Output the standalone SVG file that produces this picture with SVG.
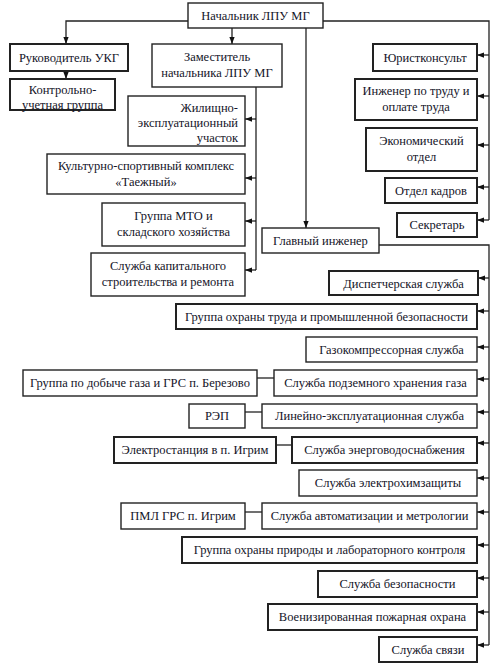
<svg xmlns="http://www.w3.org/2000/svg" width="493" height="667" viewBox="0 0 493 667">
<style>
rect{fill:#fff;stroke:#222;stroke-width:1.4}
rect.t{stroke-width:2}
text{font-family:"Liberation Serif","Times New Roman",serif;font-size:12.5px;fill:#141428;text-anchor:middle}
.c{fill:none;stroke:#222;stroke-width:1.3}
</style>
<defs>
<marker id="a" viewBox="0 0 8 6" refX="8" refY="3" markerWidth="7" markerHeight="6" orient="auto" markerUnits="userSpaceOnUse"><path d="M0,0 L8,3 L0,6 z" fill="#111"/></marker>
</defs>
<rect x="0" y="0" width="493" height="667" style="fill:#fff;stroke:none"/>
<g id="connectors">
<path class="c" d="M188,21 H66 V44" marker-end="url(#a)"/>
<path class="c" d="M66,71 V79" marker-end="url(#a)"/>
<path class="c" d="M232,28 V44" marker-end="url(#a)"/>
<path class="c" d="M306,28 V228" marker-end="url(#a)"/>
<path class="c" d="M256,87 V270"/>
<path class="c" d="M256,119 H245" marker-end="url(#a)"/>
<path class="c" d="M256,178 H245" marker-end="url(#a)"/>
<path class="c" d="M256,221 H245" marker-end="url(#a)"/>
<path class="c" d="M256,270 H245" marker-end="url(#a)"/>
<path class="c" d="M323,21 H489 V220"/>
<path class="c" d="M489,55 H477" marker-end="url(#a)"/>
<path class="c" d="M489,96 H477" marker-end="url(#a)"/>
<path class="c" d="M489,145 H477" marker-end="url(#a)"/>
<path class="c" d="M489,187 H477" marker-end="url(#a)"/>
<path class="c" d="M489,220 H477" marker-end="url(#a)"/>
<path class="c" d="M379,245 H489 V645"/>
<path class="c" d="M489,278 H478" marker-end="url(#a)"/>
<path class="c" d="M489,311 H477" marker-end="url(#a)"/>
<path class="c" d="M489,347 H477" marker-end="url(#a)"/>
<path class="c" d="M489,379 H477" marker-end="url(#a)"/>
<path class="c" d="M489,412 H477" marker-end="url(#a)"/>
<path class="c" d="M489,443 H477" marker-end="url(#a)"/>
<path class="c" d="M489,478 H477" marker-end="url(#a)"/>
<path class="c" d="M489,512 H477" marker-end="url(#a)"/>
<path class="c" d="M489,545 H477" marker-end="url(#a)"/>
<path class="c" d="M489,578 H477" marker-end="url(#a)"/>
<path class="c" d="M489,612 H477" marker-end="url(#a)"/>
<path class="c" d="M489,645 H477" marker-end="url(#a)"/>
<path class="c" d="M257,378 H274"/>
<path class="c" d="M245,412 H262"/>
<path class="c" d="M276,445 H292"/>
<path class="c" d="M245,512 H262"/>
</g>
<g id="n1"><rect x="188" y="3" width="135" height="25"/><text x="255.5" y="20">Начальник ЛПУ МГ</text></g>
<g id="n2"><rect class="t" x="10" y="44" width="118" height="27"/><text x="69" y="62">Руководитель УКГ</text></g>
<g id="n3"><rect class="t" x="10" y="79" width="105" height="31"/><text x="62.5" y="94">Контрольно-</text><text x="62.5" y="109">учетная группа</text></g>
<g id="n4"><rect x="152" y="44" width="130" height="43"/><text x="217" y="61">Заместитель</text><text x="217" y="77">начальника ЛПУ МГ</text></g>
<g id="n5"><rect x="128" y="96" width="117" height="50"/><text x="238" y="112" style="text-anchor:end">Жилищно-</text><text x="238" y="127" style="text-anchor:end">эксплуатационный</text><text x="238" y="142" style="text-anchor:end">участок</text></g>
<g id="n6"><rect x="47" y="154" width="198" height="40"/><text x="146" y="170">Культурно-спортивный комплекс</text><text x="146" y="186">«Таежный»</text></g>
<g id="n7"><rect x="102" y="203" width="143" height="43"/><text x="173.5" y="220">Группа МТО и</text><text x="173.5" y="236">складского хозяйства</text></g>
<g id="n8"><rect x="91" y="253" width="154" height="43"/><text x="168" y="270">Служба капитального</text><text x="168" y="286">строительства и ремонта</text></g>
<g id="n9"><rect class="t" x="373" y="44" width="104" height="27"/><text x="425" y="62">Юристконсульт</text></g>
<g id="n10"><rect class="t" x="355" y="79" width="122" height="41"/><text x="416" y="95">Инженер по труду и</text><text x="416" y="111">оплате труда</text></g>
<g id="n11"><rect class="t" x="366" y="128" width="111" height="43"/><text x="421.5" y="145">Экономический</text><text x="421.5" y="161">отдел</text></g>
<g id="n12"><rect class="t" x="385" y="178" width="92" height="25"/><text x="431" y="195">Отдел кадров</text></g>
<g id="n13"><rect class="t" x="397" y="213" width="80" height="24"/><text x="437" y="229">Секретарь</text></g>
<g id="n14"><rect x="262" y="228" width="117" height="25"/><text x="320.5" y="245">Главный инженер</text></g>
<g id="n15"><rect class="t" x="329" y="271" width="149" height="24"/><text x="403.5" y="288">Диспетчерская служба</text></g>
<g id="n16"><rect class="t" x="176" y="304" width="301" height="25"/><text x="326.5" y="321">Группа охраны труда и промышленной безопасности</text></g>
<g id="n17"><rect x="306" y="337" width="171" height="25"/><text x="391.5" y="354">Газокомпрессорная служба</text></g>
<g id="n18"><rect x="23" y="370" width="234" height="26"/><text x="140" y="387">Группа по добыче газа и ГРС п. Березово</text></g>
<g id="n19"><rect x="274" y="370" width="203" height="26"/><text x="375.5" y="387">Служба подземного хранения газа</text></g>
<g id="n20"><rect x="189" y="404" width="56" height="24"/><text x="217" y="420">РЭП</text></g>
<g id="n21"><rect x="262" y="404" width="215" height="24"/><text x="369.5" y="420">Линейно-эксплуатационная служба</text></g>
<g id="n22"><rect class="t" x="114" y="437" width="162" height="26"/><text x="195" y="454">Электростанция в п. Игрим</text></g>
<g id="n23"><rect class="t" x="292" y="437" width="185" height="26"/><text x="384.5" y="454">Служба энерговодоснабжения</text></g>
<g id="n24"><rect x="299" y="470" width="178" height="26"/><text x="388" y="487">Служба электрохимзащиты</text></g>
<g id="n25"><rect x="121" y="503" width="124" height="26"/><text x="183" y="520">ПМЛ ГРС п. Игрим</text></g>
<g id="n26"><rect x="262" y="503" width="215" height="26"/><text x="369.5" y="520">Служба автоматизации и метрологии</text></g>
<g id="n27"><rect class="t" x="182" y="537" width="295" height="26"/><text x="329.5" y="554">Группа охраны природы и лабораторного контроля</text></g>
<g id="n28"><rect class="t" x="318" y="571" width="159" height="26"/><text x="397.5" y="588">Служба безопасности</text></g>
<g id="n29"><rect class="t" x="268" y="604" width="209" height="26"/><text x="372.5" y="621">Военизированная пожарная охрана</text></g>
<g id="n30"><rect class="t" x="379" y="637" width="98" height="25"/><text x="428" y="654">Служба связи</text></g>
</svg>
